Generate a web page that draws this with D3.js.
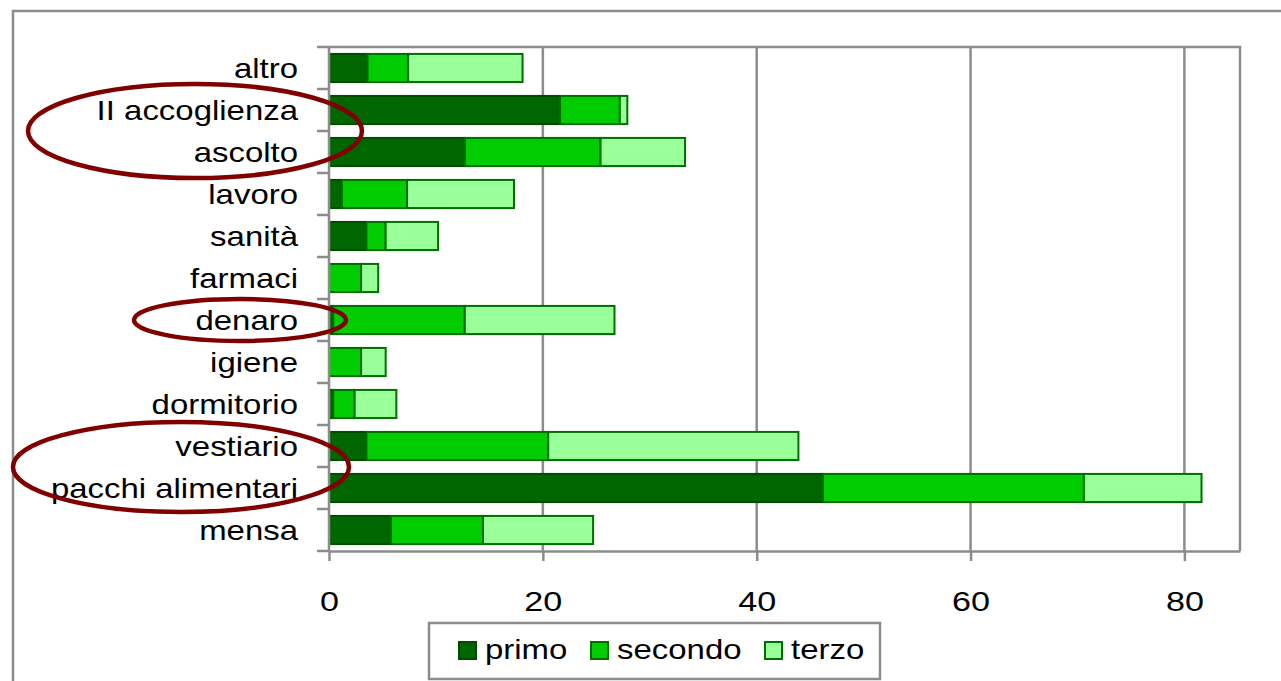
<!DOCTYPE html>
<html>
<head>
<meta charset="utf-8">
<script src="https://cdn.jsdelivr.net/npm/d3@7"></script>
<style>
  body { margin: 0; background: #fff; }
  svg { display: block; font-family: "Liberation Sans", Arial, sans-serif; }
</style>
</head>
<body>
<svg id="chart" width="1281" height="681"></svg>
<script>
// Data
const categories = ["altro", "II accoglienza", "ascolto", "lavoro", "sanità", "farmaci",
    "denaro", "igiene", "dormitorio", "vestiario", "pacchi alimentari", "mensa"];
const seriesNames = ["primo", "secondo", "terzo"];
const primo   = [3.6, 21.6, 12.7, 1.2, 3.5, 0,   0.4, 0,   0.4, 3.5, 46.2, 5.8];
const secondo = [3.8, 5.6, 12.7, 6.1, 1.8, 3.0, 12.3, 3.0, 2.0, 17.0, 24.4, 8.6];
const terzo   = [10.7, 0.7, 7.9, 10.0, 4.9, 1.6, 14.0, 2.3, 3.9, 23.4, 11.0, 10.3];
const xTicks = [0, 20, 40, 60, 80];
// highlighted groups (ellipses drawn around these labels)
const highlights = [["II accoglienza", "ascolto"], ["denaro"], ["vestiario", "pacchi alimentari"]];

const colors = ["#006600", "#00cc00", "#99ff99"];
const stretch = 1.22; // the original text is a bit wide

const svg = d3.select("#chart");
const plot = {left: 329, right: 1240, top: 47, bottom: 551};

// outer frame
svg.append("rect")
    .attr("x", 13).attr("y", 11)
    .attr("width", 1300).attr("height", 700)
    .attr("fill", "none").attr("stroke", "#8c8c8c").attr("stroke-width", 2.5);

const x = d3.scaleLinear().domain([0, 85.2]).range([plot.left, plot.right]);
const y = d3.scaleBand().domain(categories).range([plot.top, plot.bottom]).paddingInner(0.33).paddingOuter(0.165);
const yEdge = d3.scaleBand().domain(categories).range([plot.top, plot.bottom]);

// plot area border (top + right)
svg.append("path")
    .attr("d", `M${plot.left},${plot.top}H${plot.right}V${plot.bottom}`)
    .attr("fill", "none").attr("stroke", "#8c8c8c").attr("stroke-width", 2.5);

// vertical gridlines
svg.append("g")
    .selectAll("line")
    .data(xTicks.slice(1))
    .enter().append("line")
    .attr("x1", d => x(d)).attr("x2", d => x(d))
    .attr("y1", plot.top).attr("y2", plot.bottom)
    .attr("stroke", "#8c8c8c").attr("stroke-width", 2.5);

// stacked bars
const rows = categories.map((c, i) => ({cat: c, primo: primo[i], secondo: secondo[i], terzo: terzo[i]}));
const stacked = d3.stack().keys(seriesNames)(rows);

svg.append("g")
    .selectAll("g")
    .data(stacked)
    .enter().append("g")
    .attr("fill", (d, i) => colors[i])
    .attr("stroke", d => d.key === "primo" ? "#004d00" : "#006e00")
    .selectAll("rect")
    .data(d => d.filter(s => s[1] - s[0] > 0))
    .enter().append("rect")
    .attr("x", d => x(d[0]))
    .attr("y", d => y(d.data.cat))
    .attr("width", d => x(d[1]) - x(d[0]))
    .attr("height", y.bandwidth())
    .attr("stroke-width", 2);

// x axis
const xAxis = svg.append("g")
    .attr("transform", `translate(0,${plot.bottom})`)
    .call(d3.axisBottom(x).tickValues(xTicks).tickSizeInner(10).tickSizeOuter(0).tickPadding(30));
xAxis.select(".domain").attr("stroke", "#8c8c8c").attr("stroke-width", 2.5);
xAxis.selectAll(".tick line").attr("stroke", "#8c8c8c").attr("stroke-width", 2.5);
xAxis.selectAll("text").attr("font-size", 28).attr("fill", "#000")
    .attr("font-family", "Liberation Sans, Arial, sans-serif")
    .attr("transform", `scale(${stretch},1)`)
    .attr("x", 0);

// y axis (ticks at category boundaries)
svg.append("line")
    .attr("x1", plot.left).attr("x2", plot.left)
    .attr("y1", plot.top).attr("y2", plot.bottom)
    .attr("stroke", "#8c8c8c").attr("stroke-width", 2.5);
svg.append("g")
    .selectAll("line")
    .data(categories)
    .enter().append("line")
    .attr("x1", plot.left - 12).attr("x2", plot.left)
    .attr("y1", d => yEdge(d)).attr("y2", d => yEdge(d))
    .attr("stroke", "#8c8c8c").attr("stroke-width", 2.5);
svg.append("line")
    .attr("x1", plot.left - 12).attr("x2", plot.left)
    .attr("y1", plot.bottom).attr("y2", plot.bottom)
    .attr("stroke", "#8c8c8c").attr("stroke-width", 2.5);

svg.append("g")
    .selectAll("text")
    .data(categories)
    .enter().append("text")
    .attr("transform", d => `translate(298,${yEdge(d) + yEdge.bandwidth() / 2}) scale(${stretch},1)`)
    .attr("dy", "0.36em")
    .attr("text-anchor", "end")
    .attr("font-size", 27)
    .text(d => d);

// ellipses around highlighted labels
const ellCx = [195, 240, 181], ellRx = [167, 106, 168], ellRy = [47, 21, 45];
svg.append("g")
    .selectAll("ellipse")
    .data(highlights)
    .enter().append("ellipse")
    .attr("cx", (d, i) => ellCx[i])
    .attr("cy", d => (yEdge(d[0]) + yEdge(d[d.length - 1]) + yEdge.bandwidth()) / 2)
    .attr("rx", (d, i) => ellRx[i])
    .attr("ry", (d, i) => ellRy[i])
    .attr("fill", "none")
    .attr("stroke", "#800000")
    .attr("stroke-width", 4.5);

// legend
const legend = svg.append("g");
legend.append("rect")
    .attr("x", 429).attr("y", 623).attr("width", 451).attr("height", 56)
    .attr("fill", "#fff").attr("stroke", "#8c8c8c").attr("stroke-width", 2.5);
const legendX = [459, 591, 765];
const item = legend.selectAll("g.item")
    .data(seriesNames)
    .enter().append("g")
    .attr("class", "item")
    .attr("transform", (d, i) => `translate(${legendX[i]},642)`);
item.append("rect")
    .attr("width", 17).attr("height", 17)
    .attr("fill", (d, i) => colors[i])
    .attr("stroke", (d, i) => i === 0 ? "#004d00" : "#006e00")
    .attr("stroke-width", 2);
item.append("text")
    .attr("transform", `translate(26,17) scale(${stretch},1)`)
    .attr("font-size", 27)
    .text(d => d);
</script>
</body>
</html>
